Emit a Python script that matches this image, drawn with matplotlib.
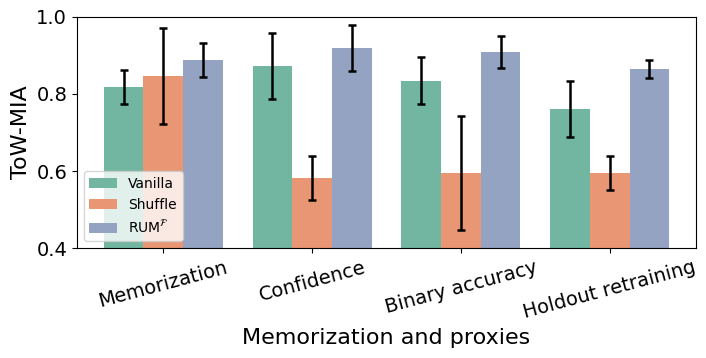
import colorsys
import numpy as np
import matplotlib
matplotlib.use("Agg")
import matplotlib.pyplot as plt
import matplotlib.colors as mcolors

categories = ["Memorization", "Confidence", "Binary accuracy", "Holdout retraining"]
methods = ["Vanilla", "Shuffle", r"RUM$^{\mathcal{F}}$"]
vanilla = [0.818, 0.873, 0.834, 0.761]
vanilla_err = [0.043, 0.086, 0.061, 0.072]
shuffle = [0.847, 0.582, 0.595, 0.595]
shuffle_err = [0.125, 0.057, 0.147, 0.044]
rum = [0.888, 0.919, 0.909, 0.865]
rum_err = [0.044, 0.060, 0.041, 0.024]

base_colors = ["#66c2a5", "#fc8d62", "#8da0cb"]


def desat(c, s=0.75):
    r, g, b = mcolors.to_rgb(c)
    h, l, sat = colorsys.rgb_to_hls(r, g, b)
    return colorsys.hls_to_rgb(h, l, sat * s)


colors = [desat(c) for c in base_colors]

fig, ax = plt.subplots(figsize=(7.06, 3.58), dpi=100)
x = np.arange(len(categories))
w = 0.8 / 3
for i, (vals, errs) in enumerate([(vanilla, vanilla_err), (shuffle, shuffle_err), (rum, rum_err)]):
    ax.bar(x + (i - 1) * w, vals, width=w, color=colors[i], label=methods[i],
           yerr=errs, capsize=3, error_kw=dict(elinewidth=1.8, capthick=1.8, ecolor="black"))

ax.set_ylim(0.4, 1.0)
ax.set_xlim(-0.58, 3.58)
ax.set_yticks([0.4, 0.6, 0.8, 1.0])
ax.set_xticks(x)
ax.set_xticklabels(categories, rotation=15, fontsize=14)
ax.tick_params(axis="y", labelsize=14)
ax.set_ylabel("ToW-MIA", fontsize=16)
ax.set_xlabel("Memorization and proxies", fontsize=16)
ax.legend(loc="lower left", fontsize=10, framealpha=0.8)
fig.subplots_adjust(left=0.109, right=0.986, top=0.953, bottom=0.307)
fig.savefig("out.png", dpi=100)
